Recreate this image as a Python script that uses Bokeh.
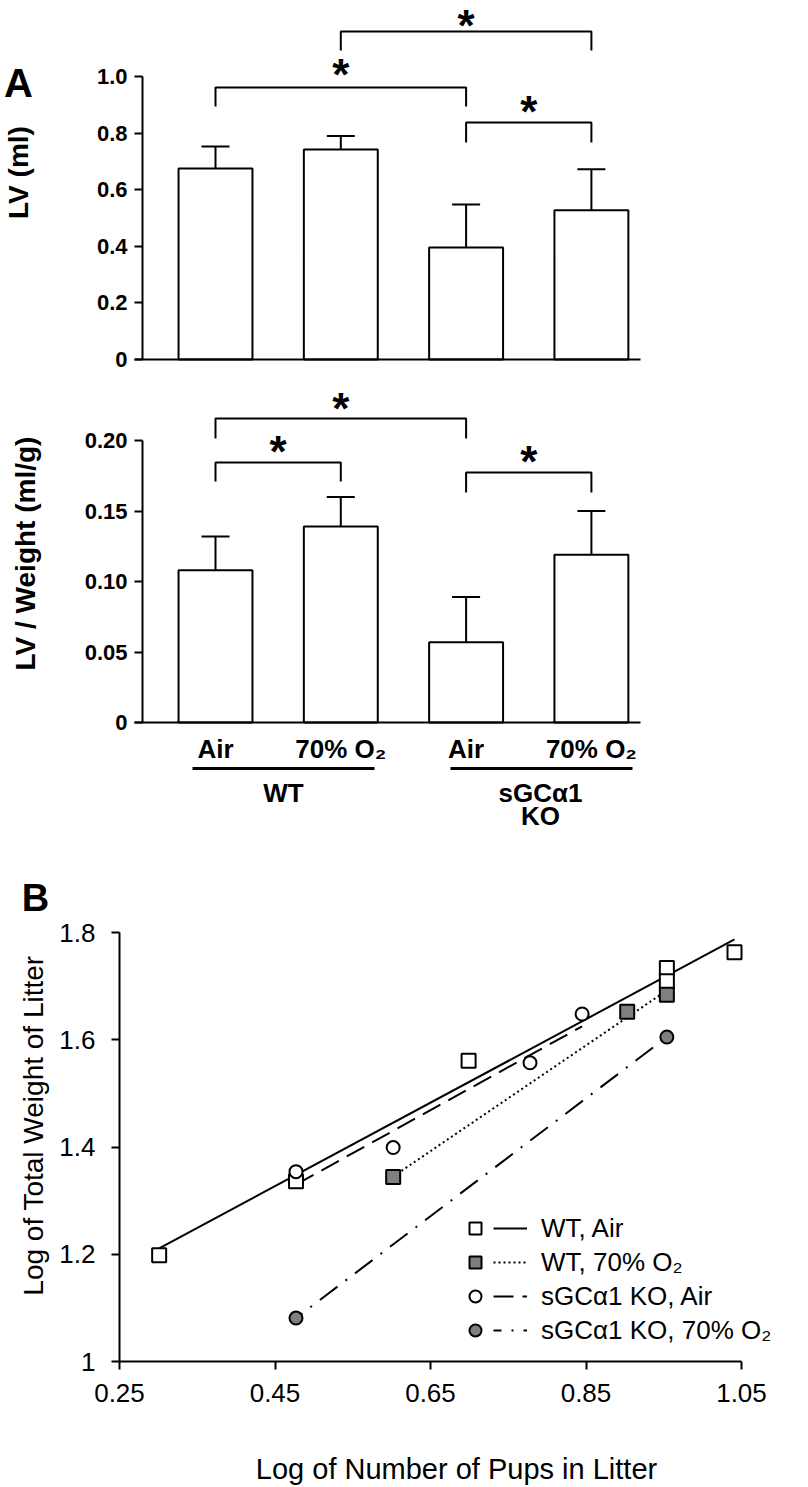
import math
from bokeh.plotting import figure
from bokeh.models import (ColumnDataSource, Whisker, TeeHead, Label, FixedTicker,
                          Legend, LegendItem, Range1d, LinearAxis)
from bokeh.layouts import column
from bokeh.embed import file_html
from bokeh.resources import INLINE

# ---------------- data: panel A ----------------
conditions = ["Air", "70% O₂", "Air", "70% O₂"]
groups = ["WT", "sGCα1", "KO"]
lv_mean = [0.675, 0.742, 0.396, 0.527]
lv_sem = [0.078, 0.048, 0.152, 0.145]
lvw_mean = [0.108, 0.139, 0.057, 0.119]
lvw_sem = [0.024, 0.021, 0.032, 0.031]
lv_ticks = [0, 0.2, 0.4, 0.6, 0.8, 1.0]
lv_tick_labels = ["0", "0.2", "0.4", "0.6", "0.8", "1.0"]
lvw_ticks = [0, 0.05, 0.10, 0.15, 0.20]
lvw_tick_labels = ["0", "0.05", "0.10", "0.15", "0.20"]
lv_sig_pairs = [(0, 2), (1, 3), (2, 3)]
lvw_sig_pairs = [(0, 2), (0, 1), (2, 3)]

# ---------------- data: panel B ----------------
wt_air_x = [0.301, 0.477, 0.699, 0.954, 0.954, 1.041]
wt_air_y = [1.198, 1.336, 1.561, 1.734, 1.709, 1.763]
wt_o2_x = [0.602, 0.903, 0.954]
wt_o2_y = [1.344, 1.652, 1.684]
ko_air_x = [0.477, 0.602, 0.778, 0.845]
ko_air_y = [1.354, 1.399, 1.557, 1.648]
ko_o2_x = [0.477, 0.954]
ko_o2_y = [1.081, 1.605]
wt_air_fit_x = [0.301, 1.041]
wt_air_fit_y = [1.211, 1.787]
wt_o2_fit_x = [0.602, 0.954]
wt_o2_fit_y = [1.345, 1.692]
ko_air_fit_x = [0.477, 0.845]
ko_air_fit_y = [1.330, 1.625]
ko_o2_fit_x = [0.477, 0.954]
ko_o2_fit_y = [1.081, 1.605]
b_xticks = [0.25, 0.45, 0.65, 0.85, 1.05]
b_xtick_labels = ["0.25", "0.45", "0.65", "0.85", "1.05"]
b_yticks = [1.0, 1.2, 1.4, 1.6, 1.8]
b_ytick_labels = ["1", "1.2", "1.4", "1.6", "1.8"]
legend_labels = ["WT, Air", "WT, 70% O₂", "sGCα1 KO, Air", "sGCα1 KO, 70% O₂"]

FONT = "Liberation Sans"
GRAY = "#7f7f7f"
INK = "black"
W = 808
STAR_SIZE = 44

# ---------------- layout helpers (page pixels -> data) ----------------
def fx_a(px):
    return (px - 215.0) / 125.3

def fy_a1(py):
    return (359.0 - py) / 283.0

def fy_a2(py):
    return (722.0 - py) / 1410.0

def fx_b(px):
    return 0.25 + (px - 119.0) / 777.5

def fy_b(py):
    return 1.0 + (1361.0 - py) / 536.25


def base_fig(height, xr, yr):
    p = figure(width=W, height=height, x_range=xr, y_range=yr,
               output_backend="svg", toolbar_location=None, title=None,
               x_axis_location=None, y_axis_location=None,
               min_border_left=0, min_border_right=0,
               min_border_top=0, min_border_bottom=0)
    p.outline_line_color = None
    p.grid.visible = False
    p.background_fill_color = "white"
    p.border_fill_color = "white"
    return p


def axis(fixed, ticks, labels, bounds, size, bold, standoff):
    ax = LinearAxis(fixed_location=fixed, ticker=FixedTicker(ticks=ticks),
                    major_label_overrides={t: l for t, l in zip(ticks, labels)},
                    bounds=bounds)
    ax.axis_line_width = 2
    ax.axis_line_color = INK
    ax.major_tick_line_width = 2
    ax.major_tick_line_color = INK
    ax.major_tick_out = 8
    ax.major_tick_in = 0
    ax.minor_tick_line_color = None
    ax.major_label_text_font = FONT
    ax.major_label_text_color = INK
    ax.major_label_text_font_style = "bold" if bold else "normal"
    ax.major_label_text_font_size = size
    ax.major_label_standoff = standoff
    return ax


def txt(x, y, text, size, bold=False, angle=0.0, baseline="middle"):
    return Label(x=x, y=y, text=text, text_font=FONT, text_color=INK,
                 text_font_style="bold" if bold else "normal",
                 text_font_size=size, text_align="center",
                 text_baseline=baseline, angle=angle)


def add_bars(p, means, sems, pairs, tops, legs, star_py, fy):
    xs = list(range(len(means)))
    src = ColumnDataSource(dict(x=xs, mean=means,
                                upper=[m + s for m, s in zip(means, sems)]))
    p.vbar(x="x", top="mean", bottom=0, width=0.59, source=src,
           fill_color="white", line_color=INK, line_width=2)
    p.add_layout(Whisker(source=src, base="x", lower="mean", upper="upper",
                         line_width=2, line_color=INK, lower_head=None,
                         upper_head=TeeHead(size=28, line_width=2, line_color=INK)))
    for (i, j), t, l, sp in zip(pairs, tops, legs, star_py):
        p.line([i, i, j, j], [l, t, t, l], line_color=INK, line_width=2)
        # top of the text box sits ~0.43 em above the asterisk's centre
        top_py = max(0.5, sp - 0.43 * STAR_SIZE)
        p.add_layout(txt((i + j) / 2.0, fy(top_py), "*", f"{STAR_SIZE}px",
                         bold=True, baseline="top"))


xr_a = Range1d(fx_a(0), fx_a(W))

# ---------------- Panel A (top): LV ----------------
p1 = base_fig(376, xr_a, Range1d(fy_a1(376), fy_a1(0)))
p1.add_layout(axis(fx_a(142), lv_ticks, lv_tick_labels, (0, 1.0), "22px", True, 7), "left")
p1.add_layout(axis(0, [], [], (fx_a(134), fx_a(640)), "22px", True, 7), "below")
add_bars(p1, lv_mean, lv_sem, lv_sig_pairs,
         [fy_a1(87), fy_a1(31), fy_a1(122)],
         [fy_a1(106), fy_a1(50), fy_a1(142)],
         [68, 12, 105], fy_a1)
p1.add_layout(txt(fx_a(18), fy_a1(82), "A", "40px", bold=True))
p1.add_layout(txt(fx_a(18), fy_a1(172), "LV (ml)", "28px", bold=True, angle=math.pi / 2))

# ---------------- Panel A (bottom): LV / weight ----------------
p2 = base_fig(464, xr_a, Range1d(fy_a2(840), fy_a2(376)))
p2.add_layout(axis(fx_a(142), lvw_ticks, lvw_tick_labels, (0, 0.20), "22px", True, 7), "left")
p2.add_layout(axis(0, [], [], (fx_a(134), fx_a(640)), "22px", True, 7), "below")
add_bars(p2, lvw_mean, lvw_sem, lvw_sig_pairs,
         [fy_a2(418), fy_a2(462), fy_a2(472)],
         [fy_a2(438), fy_a2(481), fy_a2(492)],
         [402, 445, 455], fy_a2)
for i, c in enumerate(conditions):
    p2.add_layout(txt(i, fy_a2(748), c, "26px", bold=True))
for x0, x1 in [(fx_a(192), fx_a(374)), (fx_a(450), fx_a(632))]:
    p2.line([x0, x1], [fy_a2(768), fy_a2(768)], line_color=INK, line_width=3)
p2.add_layout(txt(fx_a(283), fy_a2(792), groups[0], "26px", bold=True))
p2.add_layout(txt(fx_a(540), fy_a2(792), groups[1], "26px", bold=True))
p2.add_layout(txt(fx_a(540), fy_a2(815), groups[2], "26px", bold=True))
p2.add_layout(txt(fx_a(25), fy_a2(553), "LV / Weight (ml/g)", "28px", bold=True,
                  angle=math.pi / 2))

# ---------------- Panel B: scatter with fits ----------------
p3 = base_fig(647, Range1d(fx_b(0), fx_b(W)), Range1d(fy_b(1487), fy_b(840)))
p3.add_layout(axis(0.25, b_yticks, b_ytick_labels, (1.0, 1.8), "26px", False, 16), "left")
p3.add_layout(axis(1.0, b_xticks, b_xtick_labels, (0.25, 1.05), "26px", False, 14), "below")

l1 = p3.line(wt_air_fit_x, wt_air_fit_y, line_color=INK, line_width=2)
l2 = p3.line(wt_o2_fit_x, wt_o2_fit_y, line_color=INK, line_width=2,
             line_dash="2 3")
l3 = p3.line(ko_air_fit_x, ko_air_fit_y, line_color=INK, line_width=2,
             line_dash="20 9")
l4 = p3.line(ko_o2_fit_x, ko_o2_fit_y, line_color=INK, line_width=2,
             line_dash="22 10 2 10", line_dash_offset=14)
m1 = p3.scatter(wt_air_x, wt_air_y, marker="square", size=14, fill_color="white",
                line_color=INK, line_width=2)
m3 = p3.scatter(ko_air_x, ko_air_y, marker="circle", size=13, fill_color="white",
                line_color=INK, line_width=2)
m2 = p3.scatter(wt_o2_x, wt_o2_y, marker="square", size=14, fill_color=GRAY,
                line_color=INK, line_width=2)
m4 = p3.scatter(ko_o2_x, ko_o2_y, marker="circle", size=13, fill_color=GRAY,
                line_color=INK, line_width=2)

leg_markers = Legend(items=[LegendItem(label=" ", renderers=[r]) for r in (m1, m2, m3, m4)],
                     location=(460, 140), orientation="vertical",
                     glyph_width=30, glyph_height=34, label_height=34,
                     label_width=0, label_standoff=0, spacing=0, padding=0, margin=0,
                     border_line_color=None, background_fill_alpha=0,
                     label_text_font_size="2px")
leg_lines = Legend(items=[LegendItem(label=t, renderers=[r])
                          for t, r in zip(legend_labels, (l1, l2, l3, l4))],
                   location=(493, 140), orientation="vertical",
                   glyph_width=34, glyph_height=34, label_height=34,
                   label_standoff=14, spacing=0, padding=0, margin=0,
                   border_line_color=None, background_fill_alpha=0,
                   label_text_font=FONT, label_text_font_size="26px",
                   label_text_color=INK)
p3.add_layout(leg_markers)
p3.add_layout(leg_lines)

p3.add_layout(txt(fx_b(35), fy_b(897), "B", "38px", bold=True))
p3.add_layout(txt(fx_b(33), fy_b(1125), "Log of Total Weight of Litter", "28px",
                  angle=math.pi / 2))
p3.add_layout(txt(fx_b(456), fy_b(1468), "Log of Number of Pups in Litter", "29px"))

layout = column(p1, p2, p3, spacing=0)
open("out.html", "w").write(file_html(layout, INLINE))
